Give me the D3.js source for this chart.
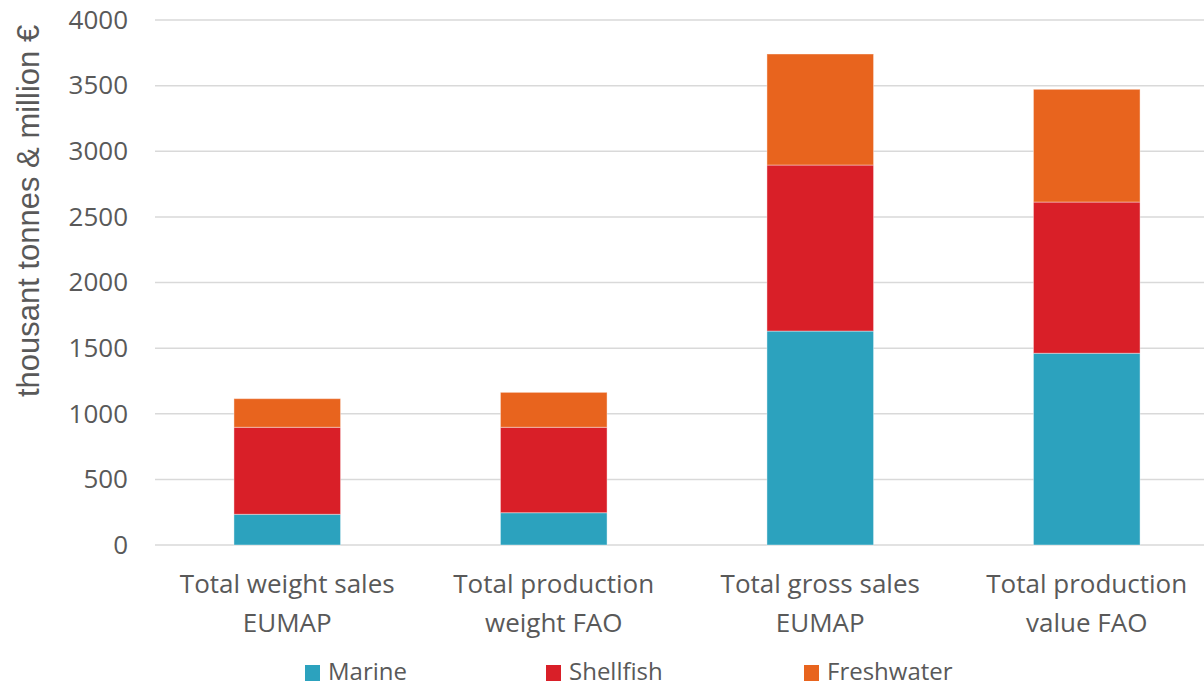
<!DOCTYPE html>
<html>
<head>
<meta charset="utf-8">
<script src="https://cdn.jsdelivr.net/npm/d3@7"></script>
<style>
  body { margin: 0; background: #fff; }
  svg { display: block; font-family: "Open Sans", sans-serif; }
</style>
</head>
<body>
<script>
// chart data
const categories = [
  ["Total weight sales", "EUMAP"],
  ["Total production", "weight FAO"],
  ["Total gross sales", "EUMAP"],
  ["Total production", "value FAO"]
];
const seriesNames = ["Marine", "Shellfish", "Freshwater"];
const marine = [234, 246, 1630, 1461];
const shellfish = [663, 651, 1265, 1152];
const freshwater = [218, 266, 846, 859];
const yTicks = [0, 500, 1000, 1500, 2000, 2500, 3000, 3500, 4000];
const colors = ["#2ca2be", "#d91f28", "#e8641e"];

const width = 1204, height = 687;
const textColor = "#595959";

const svg = d3.select("body").append("svg")
  .attr("width", width)
  .attr("height", height);

const rows = categories.map((c, i) => ({
  key: i,
  Marine: marine[i],
  Shellfish: shellfish[i],
  Freshwater: freshwater[i]
}));

const stacked = d3.stack().keys(seriesNames)(rows);

const x = d3.scaleBand()
  .domain(d3.range(categories.length))
  .range([154, 1220])
  .paddingInner(0.6)
  .paddingOuter(0.3);

const y = d3.scaleLinear()
  .domain([0, 4000])
  .range([545, 20]);

// gridlines
svg.append("g")
  .selectAll("line")
  .data(yTicks)
  .join("line")
  .attr("x1", 155)
  .attr("x2", width)
  .attr("y1", d => y(d))
  .attr("y2", d => y(d))
  .style("stroke", "#d9d9d9")
  .style("stroke-width", 1.5);

// y axis labels
const yAxis = svg.append("g")
  .attr("transform", "translate(128,0)")
  .call(d3.axisLeft(y).tickValues(yTicks).tickFormat(d3.format("d")).tickSize(0).tickPadding(0));
yAxis.select(".domain").remove();
yAxis.selectAll("text")
  .style("font-family", "'Open Sans', sans-serif")
  .style("font-size", "26px")
  .style("fill", textColor);

// bars
svg.append("g")
  .selectAll("g")
  .data(stacked)
  .join("g")
  .style("fill", (d, i) => colors[i])
  .selectAll("rect")
  .data(d => d)
  .join("rect")
  .attr("x", d => x(d.data.key))
  .attr("width", x.bandwidth())
  .attr("y", d => y(d[1]))
  .attr("height", d => y(d[0]) - y(d[1]))
  .style("stroke", "#ffffff")
  .style("stroke-opacity", 0.4)
  .style("stroke-width", 1);

// category labels
const cat = svg.append("g")
  .selectAll("text")
  .data(categories)
  .join("text")
  .attr("x", (d, i) => x(i) + x.bandwidth() / 2)
  .attr("y", 593)
  .attr("text-anchor", "middle")
  .style("font-size", "26px")
  .style("fill", textColor);
cat.selectAll("tspan")
  .data(d => d)
  .join("tspan")
  .attr("x", function () { return this.parentNode.getAttribute("x"); })
  .attr("dy", (d, i) => i === 0 ? 0 : 39)
  .text(d => d);

// y axis title
svg.append("text")
  .attr("transform", "translate(39,211) rotate(-90)")
  .attr("text-anchor", "middle")
  .style("font-family", "'Liberation Sans', Arial, sans-serif")
  .style("font-size", "31px")
  .style("fill", textColor)
  .text("thousant tonnes & million €");

// legend
const legendX = [305, 546, 804];
const legend = svg.append("g")
  .selectAll("g")
  .data(seriesNames)
  .join("g")
  .attr("transform", (d, i) => `translate(${legendX[i]},673)`);
legend.append("rect")
  .attr("x", 0)
  .attr("y", -8)
  .attr("width", 15)
  .attr("height", 16)
  .style("fill", (d, i) => colors[i]);
legend.append("text")
  .attr("x", 23)
  .attr("y", 7)
  .style("font-size", "24px")
  .style("fill", textColor)
  .text(d => d);
</script>
</body>
</html>
